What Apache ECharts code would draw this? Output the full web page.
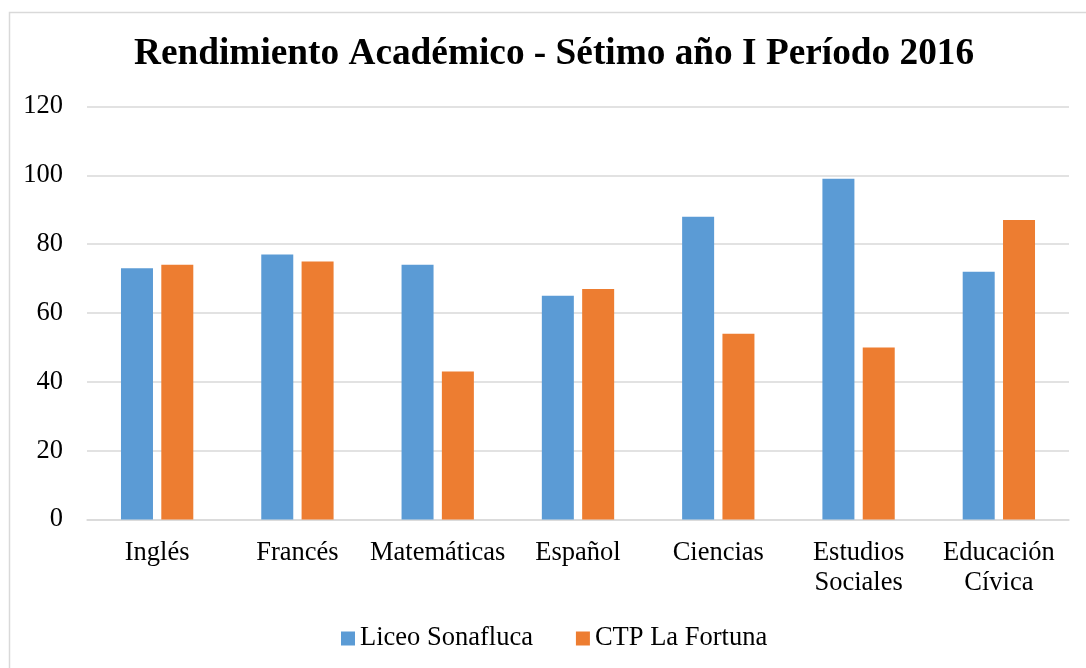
<!DOCTYPE html>
<html>
<head>
<meta charset="utf-8">
<script src="https://cdn.jsdelivr.net/npm/echarts@6/dist/echarts.min.js"></script>
<style>
html,body{margin:0;padding:0;background:#fff;}
#c{width:1086px;height:668px;}
</style>
</head>
<body>
<div id="c"></div>
<script>
const titleText = 'Rendimiento Académico - Sétimo año I Período 2016';
const categories = ['Inglés', 'Francés', 'Matemáticas', 'Español', 'Ciencias', 'Estudios\nSociales', 'Educación\nCívica'];
const seriesNames = ['Liceo Sonafluca', 'CTP La Fortuna'];
const liceo = [73, 77, 74, 65, 88, 99, 72];
const ctp = [74, 75, 43, 67, 54, 50, 87];
const yTicks = { min: 0, max: 120, interval: 20 };

const font = 'Liberation Serif, Times New Roman, serif';
const chart = echarts.init(document.getElementById('c'), null, { renderer: 'canvas' });
chart.setOption({
  animation: false,
  backgroundColor: '#fff',
  graphic: [{
    type: 'rect', left: 7, top: 10,
    shape: { width: 1200, height: 800 },
    style: { fill: 'none', stroke: '#D9D9D9', lineWidth: 1.5 },
    silent: true, z: -1
  }],
  title: {
    text: titleText,
    left: 129, top: 31,
    textStyle: { fontFamily: font, fontSize: 37.3, fontWeight: 'bold', color: '#000' }
  },
  legend: {
    data: seriesNames,
    top: 620, left: 336,
    icon: 'rect', itemWidth: 14, itemHeight: 14, itemGap: 43,
    textStyle: { fontFamily: font, fontSize: 26.5, color: '#000' }
  },
  grid: { left: 87, right: 17, top: 106.5, bottom: 148.5, containLabel: false },
  xAxis: {
    type: 'category', data: categories,
    axisLine: { lineStyle: { color: '#D9D9D9', width: 1.5 } },
    axisTick: { show: false },
    axisLabel: { fontFamily: font, fontSize: 26.5, color: '#000', margin: 19, lineHeight: 30, interval: 0 }
  },
  yAxis: {
    type: 'value', min: yTicks.min, max: yTicks.max, interval: yTicks.interval,
    axisLine: { show: false }, axisTick: { show: false },
    splitLine: { lineStyle: { color: '#D9D9D9', width: 1.5 } },
    axisLabel: { fontFamily: font, fontSize: 26.5, color: '#000', margin: 24 }
  },
  series: [
    { name: seriesNames[0], type: 'bar', data: liceo, barWidth: 32, barGap: '26%', itemStyle: { color: '#5B9BD5' } },
    { name: seriesNames[1], type: 'bar', data: ctp, barWidth: 32, barGap: '26%', itemStyle: { color: '#ED7D31' } }
  ]
});
</script>
</body>
</html>
